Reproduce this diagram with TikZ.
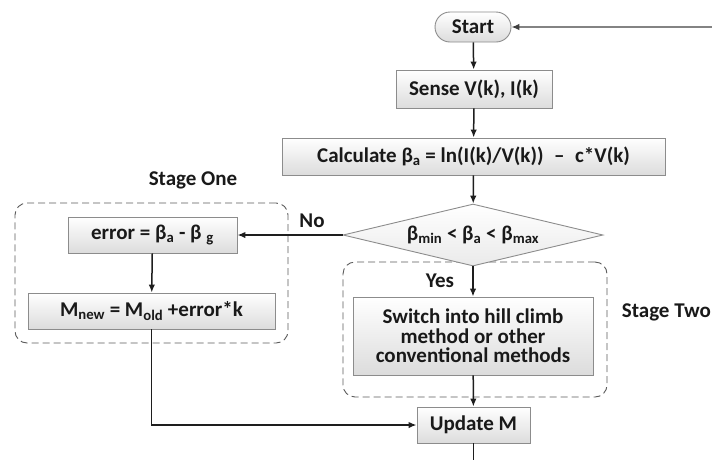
\documentclass[tikz,border=0pt]{standalone}
\usepackage{fontspec}
\setmainfont{Carlito}
\definecolor{boxline}{HTML}{8C8C8C}
\definecolor{boxshade}{HTML}{DCDCDC}
\definecolor{flowline}{HTML}{1E1E1E}
\definecolor{stageline}{HTML}{5A5A5A}
\usetikzlibrary{positioning,arrows.meta,shapes.geometric,shapes.misc}

\begin{document}
\begin{tikzpicture}[
  x=1pt, y=-1pt,
  font=\fontsize{21}{19.5}\selectfont\bfseries, text=black!90,
  box/.style={draw=boxline, line width=0.9pt, top color=white, bottom color=boxshade,
              align=center, inner sep=2pt},
  term/.style={box, rounded rectangle, minimum width=80pt, minimum height=30pt},
  test/.style={draw=boxline, line width=0.9pt, top color=white, bottom color=boxshade!60,
               diamond, aspect=4.2, inner sep=0pt, minimum width=260pt, minimum height=62pt},
  stage/.style={draw=stageline, line width=0.9pt, dash pattern=on 7pt off 4pt,
                rounded corners=12pt, inner sep=0pt},
  arr/.style={-{Latex[length=8pt,width=6.5pt]}, line width=1.5pt, color=flowline},
]
  \useasboundingbox (0,0) rectangle (712,459);

  \node[stage, minimum width=273pt, minimum height=140pt] (stone) at (151.5,273) {};
  \node[stage, minimum width=264pt, minimum height=135pt] (sttwo) at (475,329.5) {};

  \node[term] (start) at (473,27) {Start};
  \node[box, minimum width=156pt, minimum height=38pt] (sense) at (474,89) {Sense V(k), I(k)};
  \node[box, minimum width=383pt, minimum height=37pt] (calc) at (473.5,156.5)
    {Calculate β\textsubscript{a} = ln(I(k)/V(k))\enspace–\enspace c*V(k)};
  \node[test] (check) at (473,235) {β\textsubscript{min} < β\textsubscript{a} < β\textsubscript{max}};
  \node[box, minimum width=169pt, minimum height=36pt] (err) at (152.5,235)
    {error = β\textsubscript{a} - β \textsubscript{g}};
  \node[box, minimum width=247pt, minimum height=36pt] (mnew) at (151.5,311)
    {M\textsubscript{new} = M\textsubscript{old} +error*k};
  \node[box, minimum width=240pt, minimum height=78pt] (hill) at (473,336)
    {Switch into hill climb\\method or other\\conventional methods};
  \node[box, minimum width=113pt, minimum height=36pt] (upd) at (473.5,425) {Update M};

  \node (lone) at (193,180) {Stage One};
  \node[anchor=east, inner sep=0pt] (ltwo) at (711,312) {Stage Two};
  \node (lno) at (312,221) {No};
  \node (lyes) at (440,281) {Yes};

  \coordinate (loopin) at (725,27);
  \coordinate (out) at (473.5,470);

  \draw[arr, color=black!75, line width=1.2pt] (loopin) -- (start);
  \draw[arr] (start) -- (sense);
  \draw[arr] (sense) -- (calc);
  \draw[arr] (calc) -- (check);
  \draw[arr] (check) -- (err);
  \draw[arr] (err) -- (mnew);
  \draw[arr] (check) -- (hill);
  \draw[arr] (hill) -- (upd);
  \draw[arr] (mnew.south) |- (upd.west);
  \draw[line width=1.5pt, color=flowline] (upd) -- (out);
\end{tikzpicture}
\end{document}
